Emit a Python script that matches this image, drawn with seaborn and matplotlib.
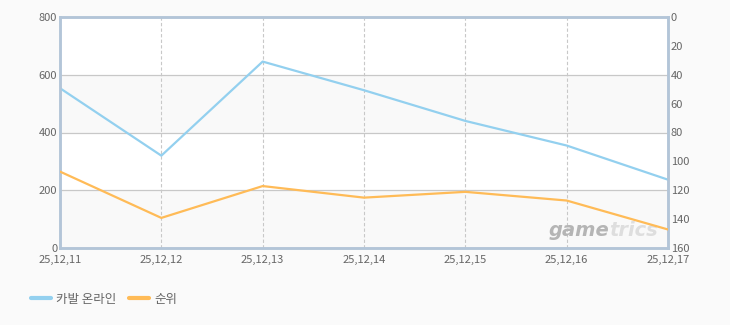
import matplotlib
matplotlib.use("Agg")
import matplotlib.pyplot as plt
import seaborn as sns
import pandas as pd
from matplotlib.lines import Line2D

dates = ["25,12,11", "25,12,12", "25,12,13", "25,12,14", "25,12,15", "25,12,16", "25,12,17"]
cabal_values = [553, 320, 645, 546, 440, 355, 237]
rank_values = [107, 139, 117, 125, 121, 127, 147]
left_ticks = [0, 200, 400, 600, 800]
right_ticks = [0, 20, 40, 60, 80, 100, 120, 140, 160]
series_names = ["카발 온라인", "순위"]

BLUE = "#93d0ef"
ORANGE = "#ffbb57"
TXT = "#666666"

sns.set_theme(style="white")
plt.rcParams["font.family"] = ["Noto Sans CJK KR", "DejaVu Sans"]

df = pd.DataFrame({"x": list(range(len(dates))), "date": dates,
                   "cabal": cabal_values, "rank": rank_values})

fig = plt.figure(figsize=(7.3, 3.25), dpi=100, facecolor="#fafafa")
ax = fig.add_axes([60/730, 1-248.3/325, 608/730, 231.6/325])
ax.set_facecolor("white")

# alternating bands
for lo in (0, 400):
    ax.axhspan(lo, lo + 200, color="#f9f9f9", zorder=0, lw=0)

sns.lineplot(data=df, x="x", y="cabal", ax=ax, color=BLUE, linewidth=1.6, zorder=3)
ax.set_xlim(0, len(dates) - 1)
ax.set_ylim(0, 800)
ax.set_yticks(left_ticks)
ax.set_xticks(df["x"])
ax.set_xticklabels(dates)
ax.set_xlabel("")
ax.set_ylabel("")

for v in left_ticks[1:-1]:
    ax.axhline(v, color="#c8c8c8", lw=0.9, zorder=1)
for i in range(1, len(dates) - 1):
    ax.axvline(i, color="#c8c8c8", lw=0.8, ls=(0, (3, 2)), zorder=1)

ax2 = ax.twinx()
sns.lineplot(data=df, x="x", y="rank", ax=ax2, color=ORANGE, linewidth=1.6, zorder=3)
ax2.set_ylim(160, 0)
ax2.set_yticks(right_ticks)
ax2.set_ylabel("")
ax2.set_xlim(0, len(dates) - 1)

for a in (ax, ax2):
    for s in a.spines.values():
        s.set_color("#b3c5d8")
        s.set_linewidth(1.8)
    a.tick_params(axis="both", length=0, labelsize=8, labelcolor=TXT, pad=2)
ax.tick_params(axis="x", pad=5)

# watermark
t1 = ax2.text(0.803, 0.035, "game", transform=ax.transAxes, fontsize=14, fontweight="bold",
              style="italic", color="#b5b5b5", ha="left", va="bottom",
              family="DejaVu Sans", zorder=2)
ax2.annotate("trics", xy=(1, 0), xycoords=t1, fontsize=14, fontweight="bold",
             style="italic", color="#dedede", ha="left", va="bottom",
             family="DejaVu Sans", zorder=2)

handles = [Line2D([0], [0], color=BLUE, lw=3), Line2D([0], [0], color=ORANGE, lw=3)]
fig.legend(handles, series_names, loc="center left", bbox_to_anchor=(20/730, 1-299/325),
           frameon=False, ncol=2, fontsize=9, handlelength=1.6, handletextpad=0.4,
           columnspacing=1.0, labelcolor=TXT)

fig.savefig("out.png", dpi=100, facecolor=fig.get_facecolor())
